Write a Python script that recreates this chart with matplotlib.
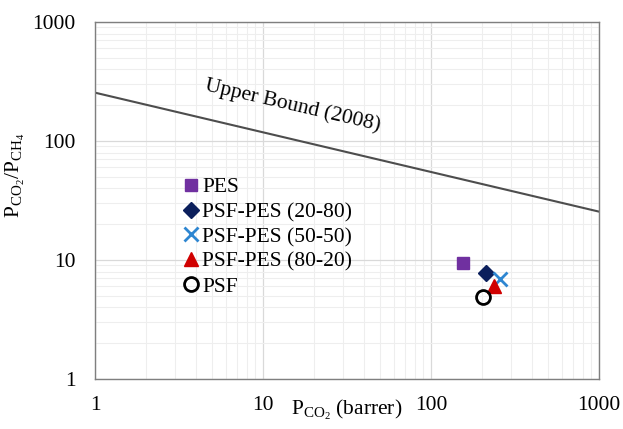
import numpy as np
import matplotlib
matplotlib.use('Agg')
import matplotlib.pyplot as plt

plt.rcParams['font.family'] = ['Liberation Serif', 'DejaVu Serif']
plt.rcParams['mathtext.fontset'] = 'custom'
plt.rcParams['mathtext.rm'] = 'Liberation Serif'
plt.rcParams['mathtext.it'] = 'Liberation Serif:italic'

# membranes
names = ['PES', 'PSF-PES (20-80)', 'PSF-PES (50-50)', 'PSF-PES (80-20)', 'PSF']
perm = [154, 212, 258, 237, 203]        # P_CO2, barrer
selec = [9.4, 7.8, 6.9, 6.0, 4.9]       # P_CO2/P_CH4

# upper bound line (2008)
ub_x = [1, 1000]
ub_y = [255, 25.5]

marks = ['s', 'D', 'x', '^', 'o']
cols = ['#7030A0', '#0B1F5C', '#2E86D1', '#D00000', 'none']
edges = ['#7030A0', '#0B1F5C', '#2E86D1', '#D00000', 'black']
sizes = [9, 8, 10, 10, 10]

fs = 15.5
fig = plt.figure(figsize=(6.23, 4.29), dpi=100)
ax = fig.add_axes([0.1525, 0.1166, 0.809, 0.832])

ax.plot(ub_x, ub_y, '-', color='#4d4d4d', lw=1.5)
for i in range(len(names)):
    ax.plot(perm[i], selec[i], marks[i], color=edges[i], mfc=cols[i], mec=edges[i],
            ms=sizes[i], mew=2 if marks[i] in 'xo' else 1, ls='none', label=names[i])

ax.set_xscale('log')
ax.set_yscale('log')
ax.set_xlim(1, 1000)
ax.set_ylim(1, 1000)
ax.set_xticks([1, 10, 100, 1000])
ax.set_xticklabels(['1', '10', '100', '1000'])
ax.set_yticks([1, 10, 100, 1000])
ax.set_yticklabels(['1', '10', '100', '1000'])
ax.grid(True, which='major', color='#d9d9d9', lw=0.9)
ax.grid(True, which='minor', color='#eeeeee', lw=0.8)
ax.set_axisbelow(True)
ax.tick_params(which='both', length=0, labelsize=fs)
ax.tick_params(axis='x', pad=12)
ax.tick_params(axis='y', pad=14)
for s in ax.spines.values():
    s.set_color('#7f7f7f')
    s.set_linewidth(1.0)

ax.text(15, 200, 'Upper Bound (2008)', rotation=-13, fontsize=fs,
        ha='center', va='center', rotation_mode='anchor')

ax.set_xlabel(r'$\mathregular{P_{CO_2}}$ (barrer)', fontsize=fs, labelpad=-12)
ax.set_ylabel(r'$\mathregular{P_{CO_2}/P_{CH_4}}$', fontsize=fs)
ax.yaxis.set_label_coords(-0.135, 0.57)

ax.legend(loc='upper left', bbox_to_anchor=(0.178, 0.565), frameon=False, fontsize=fs,
          handlelength=0.6, handletextpad=0.2, labelspacing=0.22, borderpad=0,
          borderaxespad=0, numpoints=1)

fig.savefig('out.png', dpi=100)
